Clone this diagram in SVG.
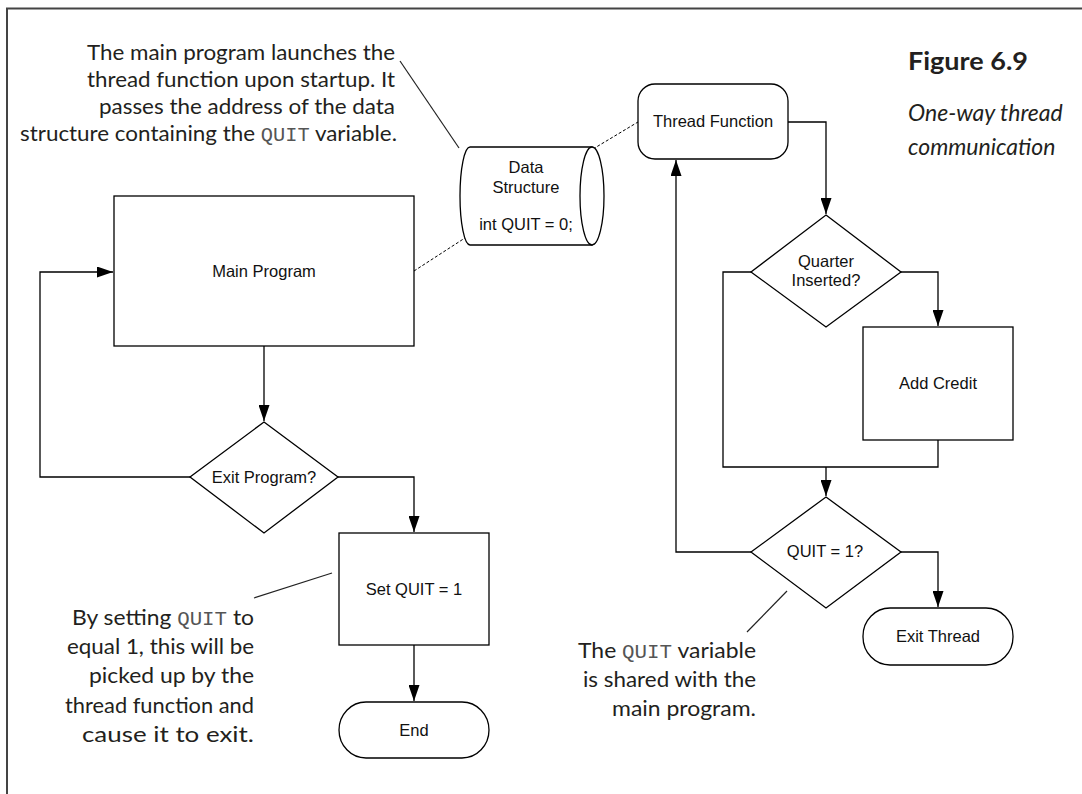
<svg xmlns="http://www.w3.org/2000/svg" width="1082" height="794" viewBox="0 0 1082 794">
<defs>
<marker id="arr" markerUnits="userSpaceOnUse" markerWidth="16" markerHeight="11" refX="16" refY="5.5" orient="auto">
<path d="M0,0 L16,5.5 L0,11 z" fill="#000"/>
</marker>
<style>
.sh{fill:#fff;stroke:#000;stroke-width:1.3}
.ln{fill:none;stroke:#000;stroke-width:1.3}
.ds{fill:none;stroke:#000;stroke-width:1;stroke-dasharray:3,2}
.ld{fill:none;stroke:#222;stroke-width:1.2}
.lb{font-family:"Liberation Sans",Arial,sans-serif;font-size:16.5px;fill:#111;text-anchor:middle}
.an{font-family:Lato,"Open Sans",sans-serif;font-size:22px;fill:#231f20;text-anchor:end}
.mo{font-family:"Liberation Mono","DejaVu Sans Mono",monospace;font-size:20px;fill:#555}
.fg{font-family:Lato,"Open Sans",sans-serif;font-size:25px;font-weight:bold;fill:#231f20}
.fc{font-family:Lato,"Open Sans",sans-serif;font-size:23px;font-style:italic;fill:#231f20}
</style>
</defs>
<rect width="1082" height="794" fill="#fff"/>
<path d="M7,794 V8.5 H1082" fill="none" stroke="#444" stroke-width="2"/>

<g id="connectors">
<path class="ln" d="M264,346 V421" marker-end="url(#arr)"/>
<path class="ln" d="M190,477 H40 V272 H113" marker-end="url(#arr)"/>
<path class="ln" d="M338,477 H414 V532" marker-end="url(#arr)"/>
<path class="ln" d="M414,645 V701" marker-end="url(#arr)"/>
<path class="ln" d="M788,122 H826 V214" marker-end="url(#arr)"/>
<path class="ln" d="M901,272 H938 V326" marker-end="url(#arr)"/>
<path class="ln" d="M751,272 H723 V467 H938 V440"/>
<path class="ln" d="M826,467 V496" marker-end="url(#arr)"/>
<path class="ln" d="M751,552 H676 V160" marker-end="url(#arr)"/>
<path class="ln" d="M901,552 H938 V607" marker-end="url(#arr)"/>
<path class="ds" d="M414,271 L468,236"/>
<path class="ds" d="M593,149 L638,122"/>
<path class="ld" d="M400,61 L459,148"/>
<path class="ld" d="M332,573 L254,598"/>
<path class="ld" d="M787,591 L747,632"/>
</g>

<g id="main-program">
<rect class="sh" x="114" y="196" width="300" height="150"/>
<text class="lb" x="264" y="277">Main Program</text>
</g>
<g id="exit-program">
<path class="sh" d="M264,422 L338,477 L264,533 L190,477 z"/>
<text class="lb" x="264" y="483">Exit Program?</text>
</g>
<g id="set-quit">
<rect class="sh" x="339" y="533" width="150" height="112"/>
<text class="lb" x="414" y="595">Set QUIT = 1</text>
</g>
<g id="end">
<rect class="sh" x="339" y="702" width="150" height="56" rx="27" ry="28"/>
<text class="lb" x="414" y="736">End</text>
</g>
<g id="data-structure">
<path class="sh" d="M592,147 H470 A10,49 0 0 0 470,245 H592 z"/>
<ellipse class="sh" cx="592" cy="196" rx="12" ry="49"/>
<text class="lb" x="526" y="173">Data</text>
<text class="lb" x="526" y="193">Structure</text>
<text class="lb" x="526" y="230">int QUIT = 0;</text>
</g>
<g id="thread-function">
<rect class="sh" x="638" y="84" width="150" height="75" rx="17"/>
<text class="lb" x="713" y="127">Thread Function</text>
</g>
<g id="quarter-inserted">
<path class="sh" d="M826,215 L901,272 L826,327 L751,272 z"/>
<text class="lb" x="826" y="267">Quarter</text>
<text class="lb" x="826" y="286">Inserted?</text>
</g>
<g id="add-credit">
<rect class="sh" x="863" y="327" width="150" height="113"/>
<text class="lb" x="938" y="389">Add Credit</text>
</g>
<g id="quit-check">
<path class="sh" d="M826,497 L901,552 L826,608 L751,552 z"/>
<text class="lb" x="825" y="557">QUIT = 1?</text>
</g>
<g id="exit-thread">
<rect class="sh" x="863" y="608" width="150" height="57" rx="27" ry="28"/>
<text class="lb" x="938" y="642">Exit Thread</text>
</g>

<g id="note-launch">
<text class="an" x="395" y="60" textLength="308" lengthAdjust="spacingAndGlyphs">The main program launches the</text>
<text class="an" x="395" y="87" textLength="308" lengthAdjust="spacingAndGlyphs">thread function upon startup. It</text>
<text class="an" x="395" y="114" textLength="296" lengthAdjust="spacingAndGlyphs">passes the address of the data</text>
<text class="an" x="397" y="141" textLength="377" lengthAdjust="spacingAndGlyphs">structure containing the <tspan class="mo">QUIT</tspan> variable.</text>
</g>
<g id="note-set">
<text class="an" x="254" y="625" textLength="182" lengthAdjust="spacingAndGlyphs">By setting <tspan class="mo">QUIT</tspan> to</text>
<text class="an" x="254" y="654" textLength="187" lengthAdjust="spacingAndGlyphs">equal 1, this will be</text>
<text class="an" x="254" y="683" textLength="165" lengthAdjust="spacingAndGlyphs">picked up by the</text>
<text class="an" x="254" y="713" textLength="189" lengthAdjust="spacingAndGlyphs">thread function and</text>
<text class="an" x="254" y="742" textLength="172" lengthAdjust="spacingAndGlyphs">cause it to exit.</text>
</g>
<g id="note-shared">
<text class="an" x="756" y="658" textLength="178" lengthAdjust="spacingAndGlyphs">The <tspan class="mo">QUIT</tspan> variable</text>
<text class="an" x="756" y="687" textLength="173" lengthAdjust="spacingAndGlyphs">is shared with the</text>
<text class="an" x="756" y="716" textLength="144" lengthAdjust="spacingAndGlyphs">main program.</text>
</g>
<g id="caption">
<text class="fg" x="908" y="70" textLength="120" lengthAdjust="spacingAndGlyphs">Figure 6.9</text>
<text class="fc" x="908" y="121">One-way thread</text>
<text class="fc" x="908" y="155">communication</text>
</g>
</svg>
